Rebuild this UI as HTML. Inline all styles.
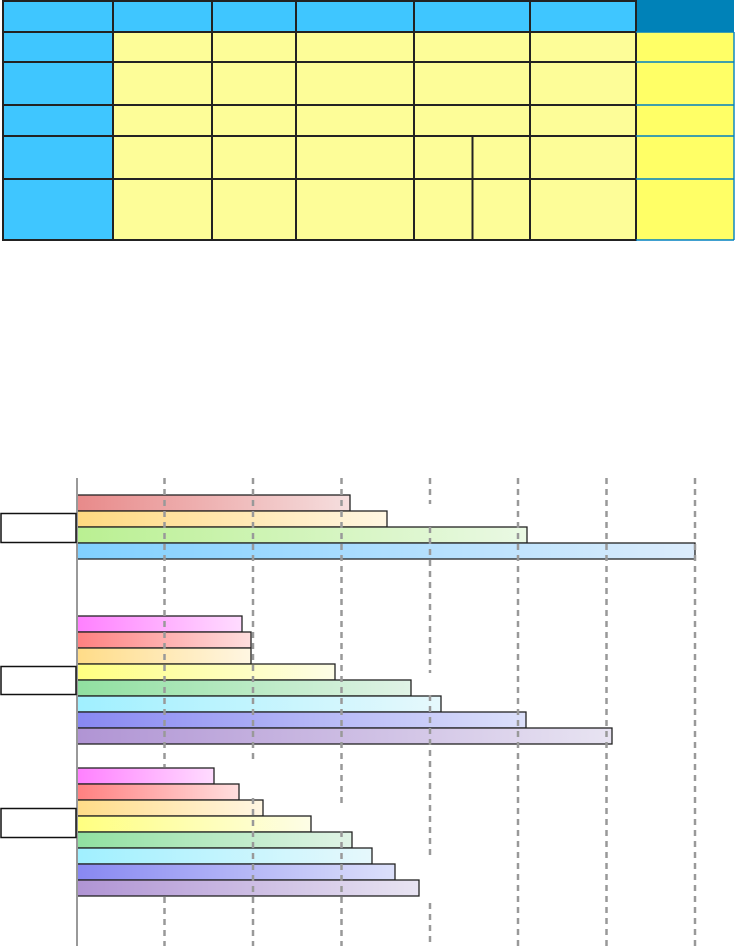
<!DOCTYPE html>
<html><head><meta charset="utf-8"><style>html,body{margin:0;padding:0;background:#fff;width:735px;height:946px;overflow:hidden}</style></head>
<body>
<svg width="735" height="946" viewBox="0 0 735 946" xmlns="http://www.w3.org/2000/svg">
<defs>
<linearGradient id="g1"><stop offset="0" stop-color="#e88a8a"/><stop offset="1" stop-color="#f5dede"/></linearGradient>
<linearGradient id="g2"><stop offset="0" stop-color="#ffd980"/><stop offset="1" stop-color="#fff6e2"/></linearGradient>
<linearGradient id="g3"><stop offset="0" stop-color="#baf092"/><stop offset="1" stop-color="#eaf9e4"/></linearGradient>
<linearGradient id="g4"><stop offset="0" stop-color="#80d0ff"/><stop offset="1" stop-color="#dcecfc"/></linearGradient>
<linearGradient id="m"><stop offset="0" stop-color="#ff80ff"/><stop offset="1" stop-color="#ffdcff"/></linearGradient>
<linearGradient id="r"><stop offset="0" stop-color="#ff8080"/><stop offset="1" stop-color="#ffdede"/></linearGradient>
<linearGradient id="o"><stop offset="0" stop-color="#ffdc88"/><stop offset="1" stop-color="#fff6e2"/></linearGradient>
<linearGradient id="y"><stop offset="0" stop-color="#ffff80"/><stop offset="1" stop-color="#fdfde6"/></linearGradient>
<linearGradient id="gr"><stop offset="0" stop-color="#90e0a0"/><stop offset="1" stop-color="#e0f3e6"/></linearGradient>
<linearGradient id="c"><stop offset="0" stop-color="#a0f0ff"/><stop offset="1" stop-color="#e6f8fc"/></linearGradient>
<linearGradient id="b"><stop offset="0" stop-color="#8888f2"/><stop offset="1" stop-color="#dce0fa"/></linearGradient>
<linearGradient id="p"><stop offset="0" stop-color="#b094d4"/><stop offset="1" stop-color="#e8e4f2"/></linearGradient>
</defs>
<rect x="2" y="0" width="634" height="240" fill="#3fc6ff"/>
<rect x="113" y="32" width="523" height="208" fill="#fdfd98"/>
<rect x="636" y="0" width="98" height="32" fill="#0082b8"/>
<rect x="636" y="32" width="98" height="208" fill="#ffff66"/>
<g stroke="#222" stroke-width="2" fill="none">
<rect x="3" y="1" width="633" height="239"/>
<path d="M3 32H636M3 62H636M3 105H636M3 136H636M3 179H636M113 1V240M212 1V240M296 1V240M414 1V240M530 1V240M472.5 136V240"/>
</g>
<g stroke="#0080c0" stroke-width="1.4" fill="none">
<path d="M636 32H734M636 62H734M636 105H734M636 136H734M636 179H734M734 32V240M636 240H734"/>
</g>
<g stroke="#222" stroke-width="1.3">
<rect x="77" y="495" width="273" height="16" fill="url(#g1)"/>
<rect x="77" y="511" width="310" height="16" fill="url(#g2)"/>
<rect x="77" y="527" width="450" height="16" fill="url(#g3)"/>
<rect x="77" y="543" width="618" height="16" fill="url(#g4)"/>
<rect x="77" y="616" width="165" height="16" fill="url(#m)"/>
<rect x="77" y="632" width="174" height="16" fill="url(#r)"/>
<rect x="77" y="648" width="174" height="16" fill="url(#o)"/>
<rect x="77" y="664" width="258" height="16" fill="url(#y)"/>
<rect x="77" y="680" width="334" height="16" fill="url(#gr)"/>
<rect x="77" y="696" width="364" height="16" fill="url(#c)"/>
<rect x="77" y="712" width="449" height="16" fill="url(#b)"/>
<rect x="77" y="728" width="535" height="16" fill="url(#p)"/>
<rect x="77" y="768" width="137" height="16" fill="url(#m)"/>
<rect x="77" y="784" width="162" height="16" fill="url(#r)"/>
<rect x="77" y="800" width="186" height="16" fill="url(#o)"/>
<rect x="77" y="816" width="234" height="16" fill="url(#y)"/>
<rect x="77" y="832" width="275" height="16" fill="url(#gr)"/>
<rect x="77" y="848" width="295" height="16" fill="url(#c)"/>
<rect x="77" y="864" width="318" height="16" fill="url(#b)"/>
<rect x="77" y="880" width="342" height="16" fill="url(#p)"/>
</g>
<g stroke="#999" stroke-width="2.5" stroke-dasharray="6,5" fill="none">
<path d="M164.5 478V767M164.5 897V946"/>
<path d="M253 478V762M253 798V946"/>
<path d="M341.5 478V808M341.5 831V946"/>
<path d="M430 478V504M430 527V673M430 695V858M430 903V946"/>
<path d="M518 478V946"/>
<path d="M606.5 478V946"/>
<path d="M695 478V946"/>
</g>
<line x1="77" y1="478" x2="77" y2="946" stroke="#999" stroke-width="2"/>
<g fill="#fff" stroke="#111" stroke-width="1.5">
<rect x="1" y="513.5" width="75" height="29"/>
<rect x="1" y="666.5" width="75" height="28"/>
<rect x="1" y="808.5" width="75" height="29"/>
</g>
</svg>
</body></html>
